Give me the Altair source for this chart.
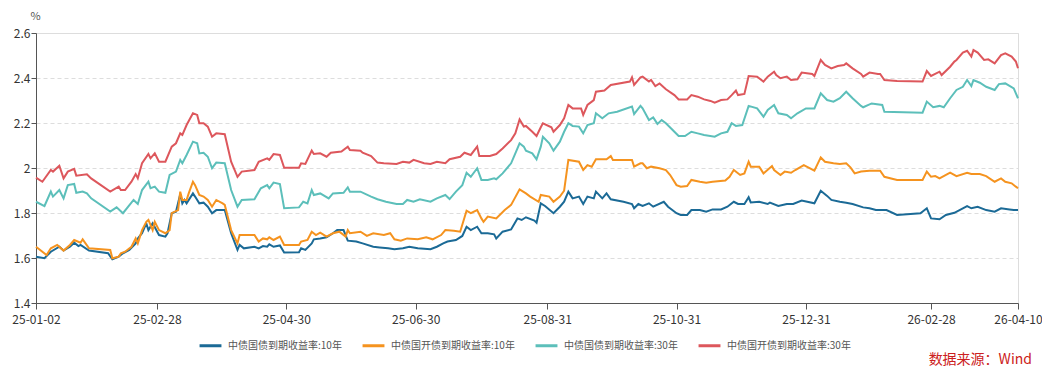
import altair as alt
import pandas as pd

START = pd.Timestamp("2025-01-02")
FONT = "Noto Sans CJK SC"

series_names = [
    "中债国债到期收益率:10年",
    "中债国开债到期收益率:10年",
    "中债国债到期收益率:30年",
    "中债国开债到期收益率:30年",
]
series_colors = ["#1b6a96", "#f5931f", "#5cbfba", "#dd575c"]

# day offsets from 2025-01-02 and yields (%)
cgb10_days = [0, 4, 7, 11, 13, 16, 18, 20, 21, 25, 34, 36, 39, 41, 44, 47, 48, 50, 52, 53, 55, 58, 61, 62,
              64, 66, 68, 69, 70, 71, 74, 75, 77, 79, 81, 83, 85, 89, 92, 95, 96, 98, 103, 105, 107, 109,
              110, 112, 115, 117, 124, 125, 127, 130, 131, 134, 137, 140, 142, 145, 147, 151, 154, 159,
              162, 166, 169, 173, 176, 180, 186, 189, 192, 194, 198, 201, 203, 205, 208, 210, 213, 216,
              217, 220, 224, 227, 229, 231, 235, 236, 238, 240, 244, 247, 249, 251, 253, 256, 258, 260,
              263, 264, 267, 269, 271, 277, 281, 282, 284, 286, 289, 291, 296, 298, 302, 304, 307, 309,
              313, 316, 319, 323, 326, 329, 331, 334, 336, 337, 341, 345, 346, 350, 354, 357, 361, 367,
              370, 373, 375, 379, 382, 385, 390, 393, 396, 401, 406, 417, 420, 422, 426, 429, 433, 437,
              439, 441, 444, 448, 452, 455, 459, 461, 463]
cgb10_vals = [1.606, 1.599, 1.628, 1.650, 1.633, 1.650, 1.668, 1.653, 1.658, 1.633, 1.621, 1.594, 1.606,
              1.621, 1.636, 1.665, 1.687, 1.710, 1.754, 1.724, 1.754, 1.702, 1.695, 1.710, 1.799, 1.806,
              1.883, 1.843, 1.858, 1.843, 1.887, 1.873, 1.843, 1.846, 1.828, 1.799, 1.813, 1.813, 1.710,
              1.636, 1.658, 1.643, 1.650, 1.643, 1.653, 1.650, 1.661, 1.650, 1.656, 1.624, 1.626, 1.643,
              1.636, 1.665, 1.683, 1.687, 1.692, 1.710, 1.724, 1.724, 1.677, 1.673, 1.665, 1.650, 1.647,
              1.643, 1.639, 1.643, 1.650, 1.643, 1.639, 1.650, 1.665, 1.673, 1.680, 1.698, 1.739, 1.724,
              1.739, 1.710, 1.710, 1.705, 1.687, 1.717, 1.727, 1.776, 1.769, 1.781, 1.766, 1.757, 1.843,
              1.831, 1.799, 1.828, 1.850, 1.895, 1.865, 1.873, 1.840, 1.873, 1.865, 1.895, 1.865, 1.887,
              1.861, 1.850, 1.840, 1.821, 1.840, 1.831, 1.843, 1.828, 1.850, 1.828, 1.799, 1.791, 1.791,
              1.813, 1.813, 1.806, 1.816, 1.816, 1.828, 1.850, 1.840, 1.840, 1.870, 1.847, 1.850, 1.840,
              1.846, 1.831, 1.840, 1.840, 1.855, 1.843, 1.899, 1.876, 1.858, 1.850, 1.846, 1.840, 1.825,
              1.821, 1.813, 1.813, 1.791, 1.799, 1.821, 1.776, 1.772, 1.791, 1.801, 1.821, 1.831, 1.821,
              1.828, 1.813, 1.806, 1.821, 1.816, 1.813, 1.813]

cdb10_days = [0, 5, 7, 10, 13, 16, 18, 21, 22, 25, 35, 36, 39, 40, 42, 45, 47, 48, 50, 52, 53, 55, 56, 58,
              61, 63, 64, 67, 68, 69, 71, 72, 74, 75, 77, 79, 81, 83, 85, 88, 89, 92, 95, 96, 103, 105, 107,
              109, 110, 112, 115, 117, 124, 125, 128, 130, 132, 134, 137, 140, 143, 146, 147, 148, 153,
              156, 159, 164, 167, 169, 172, 175, 180, 184, 187, 191, 193, 197, 200, 203, 205, 208, 210,
              211, 213, 217, 221, 224, 228, 231, 233, 237, 238, 242, 244, 247, 249, 251, 256, 258, 260,
              262, 264, 269, 271, 272, 281, 282, 285, 286, 288, 290, 294, 297, 299, 302, 304, 307, 309,
              313, 316, 319, 325, 327, 329, 332, 334, 336, 337, 341, 343, 347, 348, 351, 353, 356, 358,
              362, 367, 370, 372, 376, 379, 382, 384, 386, 389, 393, 398, 400, 406, 418, 420, 422, 424,
              426, 431, 434, 439, 441, 445, 448, 452, 455, 457, 460, 462, 463]
cdb10_vals = [1.650, 1.613, 1.643, 1.658, 1.633, 1.658, 1.680, 1.668, 1.683, 1.643, 1.636, 1.599, 1.606,
              1.621, 1.628, 1.650, 1.687, 1.665, 1.724, 1.761, 1.769, 1.724, 1.761, 1.724, 1.710, 1.724,
              1.799, 1.813, 1.895, 1.858, 1.858, 1.887, 1.939, 1.924, 1.880, 1.873, 1.858, 1.828, 1.858,
              1.843, 1.836, 1.724, 1.665, 1.702, 1.702, 1.673, 1.687, 1.683, 1.692, 1.680, 1.695, 1.658,
              1.658, 1.673, 1.680, 1.717, 1.702, 1.713, 1.695, 1.710, 1.717, 1.695, 1.724, 1.710, 1.717,
              1.698, 1.710, 1.702, 1.710, 1.683, 1.677, 1.687, 1.683, 1.692, 1.683, 1.702, 1.724, 1.721,
              1.717, 1.810, 1.799, 1.813, 1.776, 1.761, 1.784, 1.776, 1.813, 1.836, 1.905, 1.887, 1.873,
              1.850, 1.880, 1.873, 1.850, 1.873, 1.899, 2.036, 2.028, 1.991, 2.013, 2.006, 2.039, 2.039,
              2.053, 2.036, 2.036, 2.006, 2.021, 2.021, 1.999, 2.006, 1.999, 1.991, 1.969, 1.924, 1.917,
              1.920, 1.947, 1.939, 1.935, 1.939, 1.944, 1.961, 1.991, 1.969, 1.976, 2.028, 2.006, 2.006,
              1.976, 2.009, 1.991, 1.969, 1.984, 1.979, 1.991, 2.013, 1.988, 2.047, 2.028, 2.021, 2.018,
              2.021, 2.003, 1.976, 1.984, 1.988, 1.988, 1.961, 1.947, 1.947, 1.984, 1.961, 1.964, 1.954,
              1.979, 1.964, 1.979, 1.973, 1.973, 1.964, 1.939, 1.954, 1.939, 1.932, 1.917, 1.910]

cgb30_days = [0, 4, 7, 8, 11, 13, 15, 18, 19, 22, 24, 26, 35, 38, 41, 46, 48, 50, 53, 54, 56, 58, 61, 63,
              66, 68, 69, 71, 74, 76, 77, 79, 81, 83, 85, 89, 92, 95, 97, 103, 106, 109, 110, 112, 115,
              117, 124, 126, 128, 130, 131, 134, 138, 140, 145, 147, 148, 153, 158, 161, 165, 170, 173,
              175, 178, 181, 186, 189, 193, 195, 198, 201, 203, 205, 208, 210, 213, 216, 217, 220, 224,
              226, 228, 230, 231, 234, 236, 238, 239, 242, 244, 247, 249, 251, 253, 256, 258, 260, 263,
              264, 267, 270, 274, 281, 282, 285, 286, 289, 291, 293, 295, 297, 301, 303, 306, 309, 312,
              315, 320, 323, 326, 328, 330, 333, 336, 340, 343, 345, 348, 350, 354, 356, 359, 363, 367,
              370, 373, 376, 379, 382, 385, 389, 390, 394, 399, 400, 418, 420, 423, 426, 428, 431, 434,
              437, 439, 441, 442, 445, 448, 452, 454, 457, 461, 462, 463]
cgb30_vals = [1.850, 1.831, 1.895, 1.873, 1.902, 1.865, 1.924, 1.929, 1.890, 1.895, 1.887, 1.865, 1.806,
              1.825, 1.799, 1.858, 1.840, 1.902, 1.939, 1.910, 1.917, 1.895, 1.890, 1.969, 1.984, 2.036,
              2.021, 2.058, 2.117, 2.110, 2.065, 2.068, 2.050, 1.999, 2.024, 2.021, 1.902, 1.828, 1.858,
              1.861, 1.910, 1.924, 1.910, 1.935, 1.929, 1.821, 1.825, 1.850, 1.843, 1.902, 1.880, 1.887,
              1.865, 1.887, 1.890, 1.914, 1.895, 1.895, 1.873, 1.861, 1.850, 1.840, 1.840, 1.858, 1.850,
              1.861, 1.850, 1.865, 1.880, 1.862, 1.895, 1.924, 1.979, 1.961, 1.999, 1.947, 1.947, 1.954,
              1.950, 1.976, 2.021, 2.065, 2.110, 2.095, 2.077, 2.065, 2.039, 2.095, 2.139, 2.110, 2.077,
              2.117, 2.161, 2.199, 2.187, 2.184, 2.154, 2.191, 2.199, 2.243, 2.221, 2.243, 2.250, 2.273,
              2.240, 2.276, 2.265, 2.213, 2.225, 2.196, 2.213, 2.199, 2.161, 2.142, 2.142, 2.161, 2.154,
              2.147, 2.139, 2.154, 2.161, 2.199, 2.187, 2.191, 2.276, 2.265, 2.228, 2.258, 2.280, 2.243,
              2.236, 2.221, 2.243, 2.265, 2.265, 2.332, 2.302, 2.295, 2.310, 2.339, 2.310, 2.276, 2.270,
              2.287, 2.280, 2.250, 2.246, 2.295, 2.270, 2.276, 2.270, 2.310, 2.347, 2.361, 2.391, 2.364,
              2.391, 2.379, 2.361, 2.347, 2.373, 2.376, 2.354, 2.332, 2.310]

cdb30_days = [0, 3, 7, 8, 11, 13, 15, 18, 19, 24, 26, 35, 39, 40, 42, 45, 47, 48, 50, 53, 54, 56, 58, 61,
              64, 66, 68, 69, 71, 74, 76, 77, 79, 81, 83, 85, 89, 92, 95, 97, 103, 105, 109, 110, 112, 115,
              117, 124, 125, 127, 130, 131, 134, 137, 139, 144, 147, 148, 153, 154, 158, 161, 164, 170,
              173, 176, 178, 183, 186, 189, 193, 195, 200, 202, 205, 208, 209, 214, 217, 220, 224, 226,
              228, 230, 231, 234, 236, 238, 239, 243, 244, 247, 249, 251, 253, 257, 258, 260, 263, 264,
              268, 271, 280, 281, 282, 285, 286, 289, 290, 292, 294, 297, 301, 303, 307, 309, 312, 315,
              318, 320, 323, 326, 328, 330, 331, 334, 336, 340, 343, 345, 348, 349, 351, 354, 356, 359,
              361, 366, 367, 370, 372, 375, 378, 381, 382, 385, 389, 390, 393, 397, 398, 400, 406, 418,
              420, 422, 426, 427, 431, 433, 434, 437, 439, 441, 442, 444, 447, 449, 452, 455, 457, 460,
              462, 463]
cdb30_vals = [1.957, 1.939, 1.991, 1.984, 2.010, 1.954, 1.984, 1.996, 1.966, 1.972, 1.954, 1.895, 1.917,
              1.902, 1.902, 1.939, 1.973, 1.954, 2.021, 2.062, 2.043, 2.065, 2.028, 2.028, 2.095, 2.110,
              2.154, 2.147, 2.191, 2.243, 2.236, 2.199, 2.199, 2.184, 2.139, 2.154, 2.150, 2.028, 1.961,
              1.984, 1.991, 2.028, 2.043, 2.036, 2.062, 2.058, 2.001, 2.001, 2.021, 2.018, 2.077, 2.062,
              2.065, 2.050, 2.068, 2.073, 2.095, 2.080, 2.077, 2.068, 2.053, 2.024, 2.021, 2.018, 2.028,
              2.024, 2.036, 2.021, 2.018, 2.028, 2.021, 2.039, 2.050, 2.068, 2.058, 2.095, 2.053, 2.053,
              2.062, 2.087, 2.124, 2.154, 2.216, 2.184, 2.187, 2.161, 2.142, 2.181, 2.199, 2.181, 2.161,
              2.191, 2.221, 2.280, 2.265, 2.265, 2.236, 2.280, 2.302, 2.339, 2.344, 2.369, 2.384, 2.403,
              2.369, 2.403, 2.406, 2.384, 2.391, 2.364, 2.376, 2.350, 2.324, 2.305, 2.305, 2.324, 2.317,
              2.305, 2.298, 2.290, 2.302, 2.305, 2.324, 2.344, 2.324, 2.329, 2.409, 2.406, 2.384, 2.406,
              2.428, 2.413, 2.399, 2.406, 2.391, 2.394, 2.424, 2.418, 2.409, 2.480, 2.458, 2.443, 2.453,
              2.458, 2.465, 2.443, 2.418, 2.406, 2.424, 2.418, 2.418, 2.391, 2.387, 2.384, 2.431, 2.409,
              2.428, 2.413, 2.450, 2.473, 2.480, 2.513, 2.521, 2.495, 2.524, 2.513, 2.480, 2.483, 2.465,
              2.502, 2.510, 2.495, 2.473, 2.443]

tick_dates = ["2025-01-02", "2025-02-28", "2025-04-30", "2025-06-30", "2025-08-31",
              "2025-10-31", "2025-12-31", "2026-02-28", "2026-04-10"]
y_ticks = [1.4, 1.6, 1.8, 2.0, 2.2, 2.4, 2.6]
source_text = ["数据来源：Wind"]

frames = []
for name, d, v in zip(series_names,
                      [cgb10_days, cdb10_days, cgb30_days, cdb30_days],
                      [cgb10_vals, cdb10_vals, cgb30_vals, cdb30_vals]):
    dates = (START + pd.to_timedelta(d, unit="D")).strftime("%Y-%m-%dT00:00:00Z")
    frames.append(pd.DataFrame({"date": dates, "yield": v, "series": name}))
df = pd.concat(frames, ignore_index=True)


def dt(s):
    t = pd.Timestamp(s)
    return alt.DateTime(year=t.year, month=t.month, date=t.day, utc=True)


x_enc = alt.X(
    "date:T",
    scale=alt.Scale(type="utc", domain=[dt(tick_dates[0]), dt(tick_dates[-1])], nice=False),
    axis=alt.Axis(
        values=[dt(s) for s in tick_dates],
        labelExpr="utcFormat(datum.value, '%y-%m-%d')",
        title=None,
        grid=False,
        labelFont=FONT,
        labelFontSize=12,
        labelColor="#333333",
        labelPadding=5,
        tickSize=6,
        tickColor="#555555",
        domainColor="#555555",
        labelOverlap=False,
        labelFlush=False,
    ),
)

y_enc = alt.Y(
    "yield:Q",
    scale=alt.Scale(domain=[1.4, 2.6], nice=False, zero=False),
    axis=alt.Axis(
        values=y_ticks,
        format="~g",
        title="%",
        titleAngle=0,
        titleX=-1,
        titleY=-12,
        titleAlign="center",
        titleBaseline="bottom",
        titleFont=FONT,
        titleFontSize=11,
        titleFontWeight="normal",
        titleColor="#555555",
        labelFont=FONT,
        labelFontSize=12,
        labelColor="#333333",
        labelPadding=1,
        tickSize=5,
        tickColor="#555555",
        domainColor="#555555",
        gridColor="#dddddd",
        gridDash=[4, 3],
    ),
)

lines = alt.Chart(df).mark_line(strokeWidth=2, interpolate="linear").encode(
    x=x_enc,
    y=y_enc,
    color=alt.Color(
        "series:N",
        scale=alt.Scale(domain=series_names, range=series_colors),
        legend=alt.Legend(
            title=None,
            orient="none",
            direction="horizontal",
            legendX=162,
            legendY=300,
            symbolType="stroke",
            symbolSize=480,
            symbolStrokeWidth=3,
            labelFont=FONT,
            labelFontSize=10,
            labelColor="#555555",
            labelOffset=5,
            columnPadding=14,
            labelLimit=300,
        ),
    ),
    order=alt.Order("date:T"),
)

source = alt.Chart(pd.DataFrame({"t": source_text})).mark_text(
    align="right", baseline="alphabetic", fontSize=14, color="#cc2020", font=FONT
).encode(x=alt.value(996), y=alt.value(331), text="t:N")

chart = alt.layer(lines, source).properties(
    width=982,
    height=270,
    autosize=alt.AutoSizeParams(type="none"),
    padding={"left": 28, "top": 25, "right": 24, "bottom": 64},
).configure_view(stroke=None).configure(background="white")

chart.save("out.html", embed_options={"renderer": "svg", "actions": False})
